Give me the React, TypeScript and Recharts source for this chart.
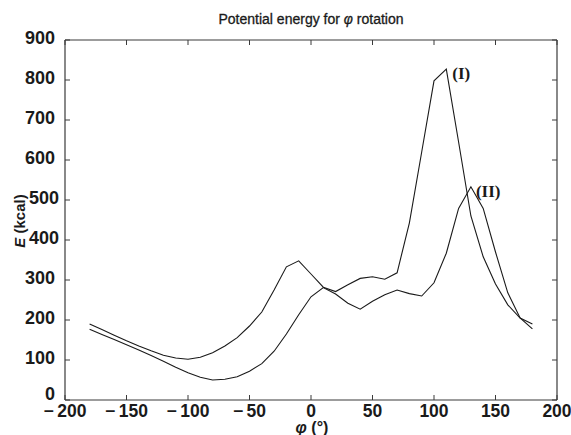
import React from 'react';
import { LineChart, Line, XAxis, YAxis, ReferenceDot } from 'recharts';

const angles = [-180, -170, -160, -150, -140, -130, -120, -110, -100, -90, -80, -70, -60, -50, -40, -30, -20, -10, 0, 10, 20, 30, 40, 50, 60, 70, 80, 90, 100, 110, 120, 130, 140, 150, 160, 170, 180];
const energyI = [190, 176, 162, 148, 135, 123, 112, 105, 102, 107, 118, 135, 156, 185, 220, 275, 333, 348, 315, 282, 271, 288, 304, 308, 302, 318, 443, 620, 798, 827, 645, 460, 358, 290, 238, 205, 190];
const energyII = [177, 164, 151, 138, 125, 111, 97, 82, 68, 57, 50, 52, 58, 72, 91, 122, 165, 213, 258, 281, 265, 242, 227, 247, 263, 275, 266, 260, 293, 367, 479, 533, 479, 370, 268, 205, 178];
const xTicks = [-200, -150, -100, -50, 0, 50, 100, 150, 200];
const yTicks = [0, 100, 200, 300, 400, 500, 600, 700, 800, 900];
const shiftedYLabels = [400, 500];

const data = angles.map((a, i) => ({ phi: a, I: energyI[i], II: energyII[i] }));

const INK = '#1a1a1a';
const AXIS = '#3a3a3a';
const sans = '"Liberation Sans", Arial, Helvetica, sans-serif';
const serif = '"Liberation Serif", "Times New Roman", serif';

const fmtX = (v: number) => (v < 0 ? '\u2212\u2009' + Math.abs(v) : String(v));

const BottomTick = (props: any) => {
  const { x, y, payload } = props;
  return (
    <g>
      <line x1={x} x2={x} y1={y} y2={y - 5} stroke={AXIS} strokeWidth={1} />
      <text x={x} y={y + 17} textAnchor="middle" fontFamily={sans} fontSize={17.5} fontWeight="bold" fill={INK}>
        {fmtX(payload.value)}
      </text>
    </g>
  );
};

const TopTick = (props: any) => {
  const { x, y } = props;
  return <line x1={x} x2={x} y1={y} y2={y + 5} stroke={AXIS} strokeWidth={1} />;
};

const LeftTick = (props: any) => {
  const { x, y, payload } = props;
  const dx = shiftedYLabels.includes(payload.value) ? 4 : 0;
  const dy = payload.value === 0 ? 0 : 4;
  return (
    <g>
      <line x1={x} x2={x + 5} y1={y} y2={y} stroke={AXIS} strokeWidth={1} />
      <text x={x - 10 + dx} y={y + dy} textAnchor="end" fontFamily={sans} fontSize={18} fontWeight="bold" fill={INK}>
        {payload.value}
      </text>
    </g>
  );
};

const RightTick = (props: any) => {
  const { x, y } = props;
  return <line x1={x} x2={x - 5} y1={y} y2={y} stroke={AXIS} strokeWidth={1} />;
};

export default function App() {
  return (
    <div style={{ position: 'absolute', left: 0, top: 0, width: 571, height: 435, background: '#fff' }}>
      <LineChart width={571} height={435} data={data} margin={{ top: 39, right: 13, bottom: 0, left: 0 }}>
        <XAxis
          dataKey="phi"
          type="number"
          domain={[-200, 200]}
          ticks={xTicks}
          orientation="bottom"
          height={35}
          tickSize={0}
          tickMargin={0}
          tickLine={false}
          axisLine={{ stroke: AXIS, strokeWidth: 1.2 }}
          tick={<BottomTick />}
          interval={0}
        />
        <XAxis
          xAxisId="top"
          dataKey="phi"
          type="number"
          domain={[-200, 200]}
          ticks={xTicks}
          orientation="top"
          height={1}
          tickSize={0}
          tickMargin={0}
          tickLine={false}
          axisLine={{ stroke: AXIS, strokeWidth: 1.2 }}
          tick={<TopTick />}
          interval={0}
        />
        <YAxis
          type="number"
          domain={[0, 900]}
          ticks={yTicks}
          width={65}
          tickSize={0}
          tickMargin={0}
          tickLine={false}
          axisLine={{ stroke: AXIS, strokeWidth: 1.2 }}
          tick={<LeftTick />}
          interval={0}
        />
        <YAxis
          yAxisId="right"
          orientation="right"
          type="number"
          domain={[0, 900]}
          ticks={yTicks}
          width={1}
          tickSize={0}
          tickMargin={0}
          tickLine={false}
          axisLine={{ stroke: AXIS, strokeWidth: 1.2 }}
          tick={<RightTick />}
          interval={0}
        />
        <Line xAxisId="top" yAxisId="right" dataKey="I" type="linear" stroke={INK} strokeWidth={1.1} dot={false} isAnimationActive={false} />
        <Line dataKey="II" type="linear" stroke={INK} strokeWidth={1.1} dot={false} isAnimationActive={false} />
        <ReferenceDot
          x={110}
          y={827}
          r={0}
          stroke="none"
          label={{ value: '(I)', position: 'right', offset: 6, dy: 4, fontFamily: serif, fontSize: 17, fontWeight: 'bold', fill: INK }}
        />
        <ReferenceDot
          x={130}
          y={533}
          r={0}
          stroke="none"
          label={{ value: '(II)', position: 'right', offset: 5, dy: 4, fontFamily: serif, fontSize: 17, fontWeight: 'bold', fill: INK }}
        />
        <text x={311} y={24} textAnchor="middle" fontFamily={sans} fontSize={14} fill={INK} stroke={INK} strokeWidth={0.3}>
          Potential energy for <tspan fontStyle="italic">φ</tspan> rotation
        </text>
        <text x={312} y={433} textAnchor="middle" fontFamily={sans} fontSize={16} fontWeight="bold" fill={INK}>
          <tspan fontStyle="italic">φ</tspan> (°)
        </text>
        <text
          x={19}
          y={221}
          transform="rotate(-90 19 221)"
          textAnchor="middle"
          dominantBaseline="central"
          fontFamily={sans}
          fontSize={15}
          fontWeight="bold"
          fill={INK}
        >
          <tspan fontStyle="italic">E</tspan> (kcal)
        </text>
      </LineChart>
    </div>
  );
}
